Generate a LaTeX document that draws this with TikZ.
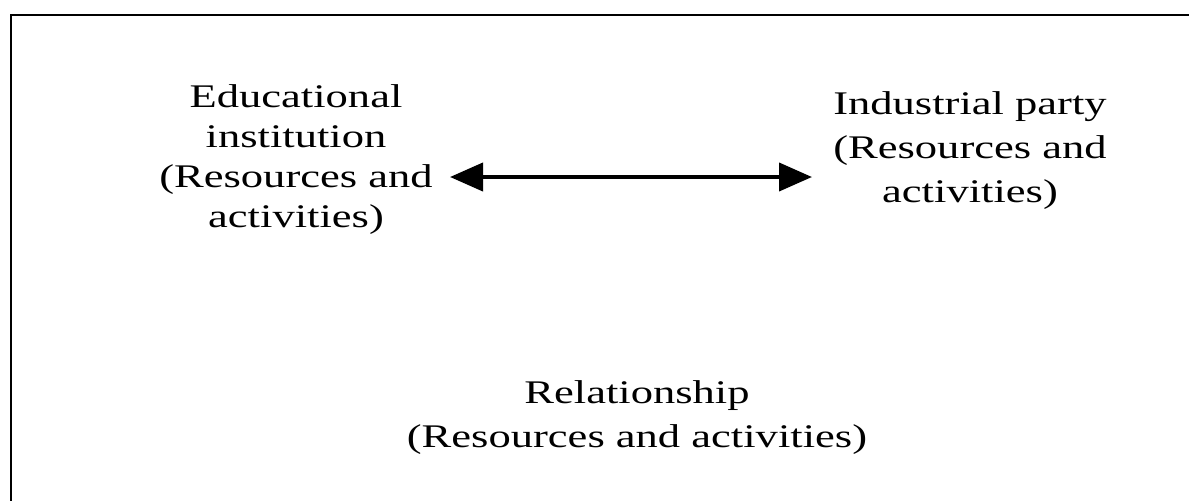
\documentclass[tikz,border=0pt]{standalone}
\usepackage{fontspec}
\setmainfont{Liberation Serif}[FakeStretch=1.35]
\usetikzlibrary{arrows.meta}
\tikzset{
  label text/.style={align=center, inner sep=0pt, anchor=base,
    font=\fontsize{33}{#1}\selectfont},
  label text/.default=40,
  frame line/.style={line width=2pt, black},
  link/.style={line width=4pt,
    {Triangle[length=33pt,width=28pt]}-{Triangle[length=33pt,width=28pt]}}
}
\begin{document}
\begin{tikzpicture}[x=1pt,y=-1pt]
\useasboundingbox (0,0) rectangle (1189,501);
% open frame: top and left edges
\coordinate (frameTL) at (11,15);
\coordinate (frameTR) at (1189,15);
\coordinate (frameBL) at (11,501);
\draw[frame line] (frameTR) -- (frameTL) -- (frameBL);

% the three parties (placed by the baseline of their last line)
\node[label text=40] (edu) at (296,227) {Educational\\institution\\(Resources and\\activities)};
\node[label text=44] (ind) at (970,202) {Industrial party\\(Resources and\\activities)};
\node[label text=44] (rel) at (637,447) {Relationship\\(Resources and activities)};

% two-way link between the parties
\coordinate (linkL) at (450,177);
\coordinate (linkR) at (812,177);
\draw[link] (linkL) -- (linkR);
\end{tikzpicture}
\end{document}
